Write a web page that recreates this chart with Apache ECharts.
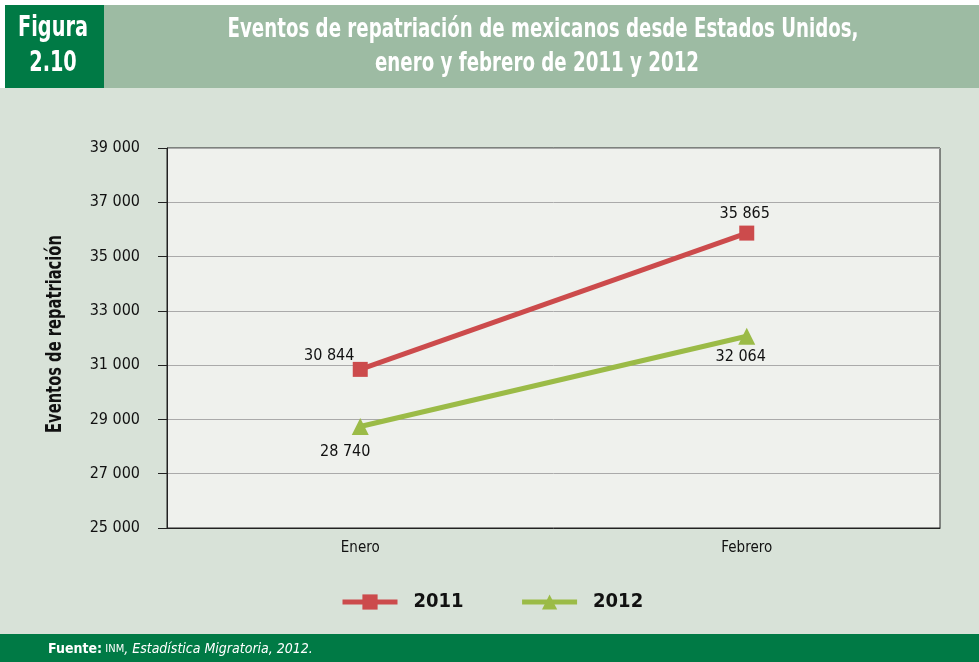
<!DOCTYPE html>
<html><head><meta charset="utf-8">
<script src="https://cdn.jsdelivr.net/npm/echarts@6/dist/echarts.min.js"></script>
<style>html,body{margin:0;padding:0;background:#d8e2d8;}#c{width:979px;height:662px;}</style>
</head><body><div id="c"></div>
<script>
const categories = ['Enero', 'Febrero'];
const values2011 = [30844, 35865];
const values2012 = [28740, 32064];
const seriesNames = ['2011', '2012'];
const yMin = 25000, yMax = 39000, yStep = 2000;

const FONT = '"Liberation Sans Narrow", "DejaVu Sans Condensed", sans-serif';
const BFONT = '"DejaVu Sans", sans-serif';
const CFONT = '"DejaVu Sans Condensed", sans-serif';
const fmt = v => { const s = String(Math.round(v)); return s.length > 3 ? s.slice(0, -3) + ' ' + s.slice(-3) : s; };

const chart = echarts.init(document.getElementById('c'));
chart.setOption({
  backgroundColor: '#d8e2d8',
  animation: false,
  graphic: [
    { type: 'rect', shape: { x: 0, y: 0, width: 979, height: 88 }, style: { fill: '#ffffff' }, silent: true },
    { type: 'rect', shape: { x: 5, y: 5, width: 99, height: 83 }, style: { fill: '#007a45' }, silent: true },
    { type: 'rect', shape: { x: 104, y: 5, width: 875, height: 83 }, style: { fill: '#9dbba3' }, silent: true },
    { type: 'text', x: 53, y: 28, scaleX: 0.665, style: { text: 'Figura', fill: '#fff', font: 'bold 29px ' + BFONT, align: 'center', verticalAlign: 'middle' } },
    { type: 'text', x: 53, y: 63, scaleX: 0.665, style: { text: '2.10', fill: '#fff', font: 'bold 29px ' + BFONT, align: 'center', verticalAlign: 'middle' } },
    { type: 'text', x: 543, y: 30, scaleX: 0.675, style: { text: 'Eventos de repatriación de mexicanos desde Estados Unidos,', fill: '#fff', font: 'bold 27px ' + BFONT, align: 'center', verticalAlign: 'middle' } },
    { type: 'text', x: 537, y: 64, scaleX: 0.675, style: { text: 'enero y febrero de 2011 y 2012', fill: '#fff', font: 'bold 27px ' + BFONT, align: 'center', verticalAlign: 'middle' } },
    { type: 'text', x: 56, y: 334, rotation: Math.PI / 2, scaleX: 0.70, style: { text: 'Eventos de repatriación', fill: '#111', font: 'bold 21px ' + BFONT, align: 'center', verticalAlign: 'middle' } },
    { type: 'rect', shape: { x: 0, y: 634, width: 979, height: 28 }, style: { fill: '#007a45' }, silent: true },
    { type: 'text', x: 48, y: 649, style: { rich: {
        b: { fill: '#fff', font: 'bold 14px ' + CFONT },
        s: { fill: '#fff', font: '11px ' + FONT },
        i: { fill: '#fff', font: 'italic 14px ' + FONT }
      }, text: '{b|Fuente:} {s|INM}{i|, Estadística Migratoria, 2012.}', verticalAlign: 'middle' } }
  ],
  grid: { left: 167, right: 39, top: 148, bottom: 134, show: true, backgroundColor: '#eff1ed', borderColor: '#222', borderWidth: 1 },
  legend: {
    left: 335, top: 587, itemGap: 56, itemWidth: 55, itemHeight: 19,
    lineStyle: { width: 5 },
    textStyle: { fontFamily: CFONT, fontWeight: 'bold', fontSize: 20, color: '#111', padding: [0, 0, 0, 11] },
    data: seriesNames
  },
  xAxis: {
    type: 'category', data: categories, boundaryGap: true,
    axisLine: { lineStyle: { color: '#222' } }, axisTick: { show: false },
    axisLabel: { fontFamily: FONT, fontSize: 15, color: '#111', margin: 13 }
  },
  yAxis: {
    type: 'value', min: yMin, max: yMax, interval: yStep,
    axisLine: { show: true, lineStyle: { color: '#222' } },
    axisTick: { show: true, inside: false, length: 9, lineStyle: { color: '#222' } },
    splitLine: { lineStyle: { color: '#aaa' } },
    axisLabel: { fontFamily: FONT, fontSize: 16, color: '#111', margin: 27, formatter: fmt }
  },
  series: [
    { name: seriesNames[0], type: 'line', data: values2011, symbol: 'rect', symbolSize: 15,
      lineStyle: { color: '#cc4b4c', width: 5 }, itemStyle: { color: '#cc4b4c' },
      label: { show: true, fontFamily: FONT, fontSize: 16, color: '#111', formatter: p => fmt(p.value), position: 'top', distance: 10 },
      labelLayout: p => p.dataIndex === 0 ? { dx: -31, dy: 12 } : { dx: -2, dy: 6 } },
    { name: seriesNames[1], type: 'line', data: values2012, symbol: 'triangle', symbolSize: 17,
      lineStyle: { color: '#9bbb47', width: 5 }, itemStyle: { color: '#9bbb47' },
      label: { show: true, fontFamily: FONT, fontSize: 16, color: '#111', formatter: p => fmt(p.value), position: 'bottom', distance: 10 },
      labelLayout: p => p.dataIndex === 0 ? { dx: -15, dy: -1 } : { dx: -6, dy: -6 } }
  ]
});
</script></body></html>
